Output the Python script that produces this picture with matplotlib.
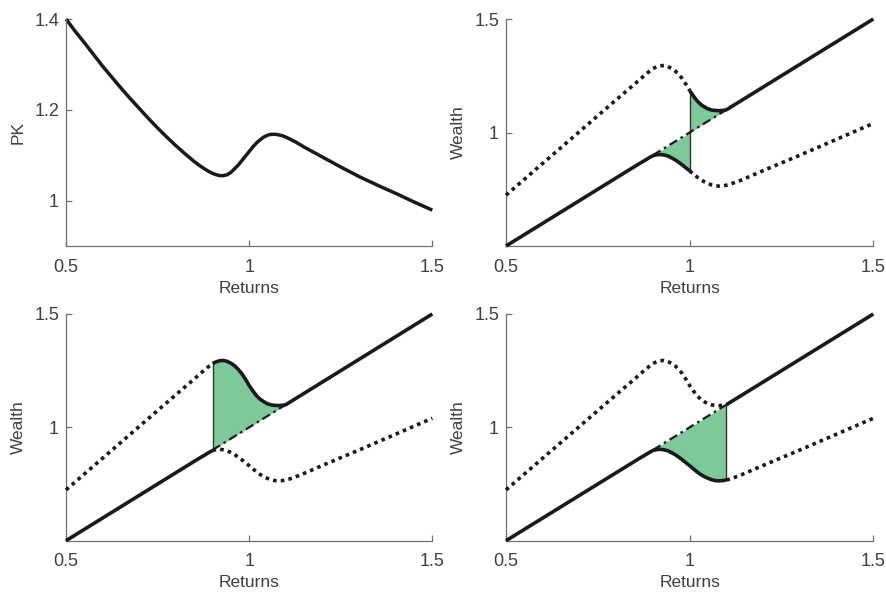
import numpy as np
import matplotlib
matplotlib.use("Agg")
import matplotlib.pyplot as plt

plt.rcParams['font.family'] = ['Liberation Sans', 'DejaVu Sans']

# Pricing kernel
pk_x = np.array([0.5, 0.525, 0.55, 0.575, 0.6, 0.625, 0.65, 0.675, 0.7, 0.725, 0.75,
                 0.775, 0.8, 0.825, 0.85, 0.865, 0.88, 0.89, 0.9, 0.91, 0.92, 0.93,
                 0.94, 0.95, 0.96, 0.97, 0.98, 0.99, 1.0, 1.01, 1.02, 1.03, 1.04,
                 1.05, 1.06, 1.07, 1.08, 1.09, 1.1, 1.125, 1.15, 1.175, 1.2, 1.25,
                 1.3, 1.35, 1.4, 1.45, 1.5])
pk_y = np.array([1.400, 1.373, 1.348, 1.322, 1.296, 1.272, 1.248, 1.225, 1.203, 1.181,
                 1.160, 1.140, 1.121, 1.103, 1.086, 1.077, 1.069, 1.064, 1.060, 1.057,
                 1.055, 1.055, 1.057, 1.062, 1.070, 1.078, 1.088, 1.098, 1.108, 1.118,
                 1.127, 1.134, 1.140, 1.144, 1.146, 1.146, 1.145, 1.143, 1.140, 1.130,
                 1.118, 1.107, 1.096, 1.074, 1.053, 1.034, 1.016, 0.997, 0.979])

# upper wealth branch
up_x = np.array([0.5, 0.6, 0.7, 0.8, 0.85, 0.88, 0.9, 0.91, 0.92, 0.93, 0.94, 0.95,
                 0.96, 0.97, 0.98, 0.99, 1.0, 1.01, 1.02, 1.03, 1.04, 1.05, 1.06, 1.07,
                 1.08, 1.09, 1.1, 1.12, 1.5])
up_y = np.array([0.724, 0.864, 1.004, 1.144, 1.213, 1.256, 1.282, 1.289, 1.294, 1.295,
                 1.291, 1.283, 1.272, 1.256, 1.237, 1.212, 1.185, 1.161, 1.140, 1.124,
                 1.113, 1.104, 1.099, 1.097, 1.096, 1.097, 1.100, 1.120, 1.500])

# lower wealth branch
lo_x = np.array([0.5, 0.86, 0.88, 0.89, 0.9, 0.91, 0.92, 0.93, 0.94, 0.95, 0.96, 0.97,
                 0.98, 0.99, 1.0, 1.01, 1.02, 1.03, 1.04, 1.05, 1.06, 1.07, 1.08, 1.09,
                 1.1, 1.11, 1.12, 1.14, 1.16, 1.18, 1.2, 1.3, 1.4, 1.5])
lo_y = np.array([0.5, 0.86, 0.879, 0.889, 0.898, 0.902, 0.903, 0.901, 0.897, 0.889,
                 0.880, 0.869, 0.857, 0.844, 0.831, 0.817, 0.804, 0.792, 0.783, 0.775,
                 0.769, 0.765, 0.764, 0.765, 0.768, 0.772, 0.778, 0.790, 0.804, 0.818,
                 0.832, 0.900, 0.970, 1.040])

cuts = [1.0, 0.9, 1.1]  # switch point in panels 2, 3, 4
band = (0.9, 1.1)

green = '#7dc99a'
ink = '#1a1a1a'
txtcol = '#404040'
spcol = '#707070'

fig = plt.figure(figsize=(8.87, 5.92), dpi=100)
W, H = 887, 592
boxes = [(66, 19, 432.3, 246), (506, 19, 873.3, 246),
         (66, 314, 432.3, 540.7), (506, 314, 873.3, 540.7)]
axes = []
for l, t, r, b in boxes:
    axes.append(fig.add_axes([l / W, (H - b) / H, (r - l) / W, (b - t) / H]))


def style(ax, ylabel):
    for s in ['top', 'right']:
        ax.spines[s].set_visible(False)
    for s in ['left', 'bottom']:
        ax.spines[s].set_color(spcol)
        ax.spines[s].set_linewidth(0.9)
    ax.tick_params(direction='in', length=4, width=0.9, color=spcol,
                   labelcolor=txtcol, labelsize=13)
    ax.tick_params(axis='x', pad=9)
    ax.tick_params(axis='y', pad=5)
    ax.set_xlim(0.5, 1.5)
    ax.set_xticks([0.5, 1, 1.5])
    ax.set_xticklabels(['0.5', '1', '1.5'])
    ax.set_xlabel('Returns', fontsize=12.5, color=txtcol)
    ax.set_ylabel(ylabel, fontsize=12.5, color=txtcol)
    ax.xaxis.set_label_coords(0.5, -0.152)
    ax.yaxis.set_label_coords(-0.11, 0.5)


# PK panel
ax = axes[0]
ax.plot(pk_x, pk_y, color=ink, lw=2.5, solid_capstyle='butt')
ax.set_ylim(0.9, 1.4)
ax.set_yticks([1, 1.2, 1.4])
ax.set_yticklabels(['1', '1.2', '1.4'])
style(ax, 'PK')
ax.lines[0].set_clip_on(False)

# wealth panels
for ax, c in zip(axes[1:], cuts):
    m_up = (up_x >= band[0]) & (up_x <= band[1])
    m_lo = (lo_x >= band[0]) & (lo_x <= band[1])
    # shaded area between the chosen branch and the 45 degree line
    sel_lo = m_lo & (lo_x <= c)
    sel_up = m_up & (up_x >= c)
    ax.fill_between(lo_x[sel_lo], lo_x[sel_lo], lo_y[sel_lo], color=green, lw=0, zorder=1)
    ax.fill_between(up_x[sel_up], up_x[sel_up], up_y[sel_up], color=green, lw=0, zorder=1)

    # vertical jump
    ax.plot([c, c], [np.interp(c, lo_x, lo_y), np.interp(c, up_x, up_y)],
            color='#333333', lw=1.0, zorder=2)

    # 45 degree line in the band
    ax.plot(list(band), list(band), color=ink, lw=1.6, dashes=(4, 1.8, 1.2, 1.8), zorder=3)

    # dotted: branch not taken
    ax.plot(up_x[up_x <= c], up_y[up_x <= c], color=ink, lw=2.6,
            dashes=(1, 1.15), dash_capstyle='butt', zorder=4)
    ax.plot(lo_x[lo_x >= c], lo_y[lo_x >= c], color=ink, lw=2.6,
            dashes=(1, 1.15), dash_capstyle='butt', zorder=4)

    # solid: realised wealth
    ax.plot(lo_x[lo_x <= c], lo_y[lo_x <= c], color=ink, lw=2.6,
            solid_capstyle='butt', zorder=5)
    ax.plot(up_x[up_x >= c], up_y[up_x >= c], color=ink, lw=2.6,
            solid_capstyle='butt', zorder=5)

    ax.set_ylim(0.5, 1.5)
    ax.set_yticks([1, 1.5])
    ax.set_yticklabels(['1', '1.5'])
    style(ax, 'Wealth')
    for l in ax.lines:
        l.set_clip_on(False)

fig.savefig('out.png', dpi=100)
